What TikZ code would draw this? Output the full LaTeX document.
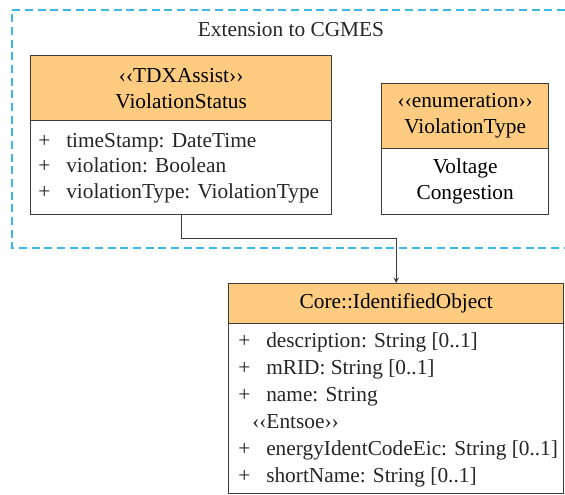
\documentclass[tikz,border=0pt]{standalone}
\usepackage{fontspec}
\setmainfont{Liberation Serif}

\definecolor{naranja}{RGB}{253,204,128}
\definecolor{borde}{RGB}{60,60,60}
\definecolor{celeste}{RGB}{60,185,230}

\newcommand{\pxu}{0.75pt}

\tikzset{
  caja/.style={draw=borde, line width=1pt, inner sep=0pt, anchor=north west, align=center},
  cabecera/.style={caja, fill=naranja},
  cuerpo/.style={caja, fill=white},
  attr/.style={anchor=base west, inner sep=0pt, text=black!85},
}

\begin{document}
\begin{tikzpicture}[x=0.75pt,y=-0.75pt,>=stealth,font=\fontsize{16}{19.5}\selectfont]
        \useasboundingbox (0,0) rectangle (565,494);

        % Paquete de extension
        \draw[celeste, line width=1pt, dash pattern=on 6pt off 3.5pt] (565,10) -- (12,10) -- (12,248) -- (565,248);
        \node[text=black!85] (titulo) at (291,30) {Extension to CGMES};

        % Clase ViolationStatus
        \node[cabecera, minimum width=301*\pxu, minimum height=65*\pxu] (vsH) at (30,55) {‹‹TDXAssist››\\ViolationStatus};
        \node[cuerpo, minimum width=301*\pxu, minimum height=94*\pxu] (vsB) at (30,120) {};
        \foreach \y/\txt [count=\i] in {147/timeStamp: DateTime, 172/violation: Boolean, 198/violationType: ViolationType}{
          \node[attr] (vsMas\i) at (38,\y) {+};
          \node[attr] (vsAtr\i) at (66,\y) {\txt};
        }

        % Enumeracion ViolationType
        \node[cabecera, minimum width=167*\pxu, minimum height=65*\pxu] (vtH) at (381,83) {‹‹enumeration››\\ViolationType};
        \node[cuerpo, minimum width=167*\pxu, minimum height=66*\pxu] (vtB) at (381,148) {Voltage\\Congestion};

        % Clase Core::IdentifiedObject
        \node[cabecera, minimum width=335*\pxu, minimum height=40*\pxu] (ioH) at (228,283) {Core::IdentifiedObject};
        \node[cuerpo, minimum width=335*\pxu, minimum height=170*\pxu] (ioB) at (228,323) {};
        \foreach \y/\txt [count=\i] in {347/description: String [0..1], 374/mRID: String [0..1], 401/name: String, 455/energyIdentCodeEic: String [0..1], 482/shortName: String [0..1]}{
          \node[attr] (ioMas\i) at (238,\y) {+};
          \node[attr] (ioAtr\i) at (266,\y) {\txt};
        }
        \node[attr] (ioEst) at (252,428) {‹‹Entsoe››};

        % Herencia
        \draw[->,borde,line width=0.8pt] (vsB.south) -- ++(0,23) -| (ioH.north);
    \end{tikzpicture}
\end{document}
